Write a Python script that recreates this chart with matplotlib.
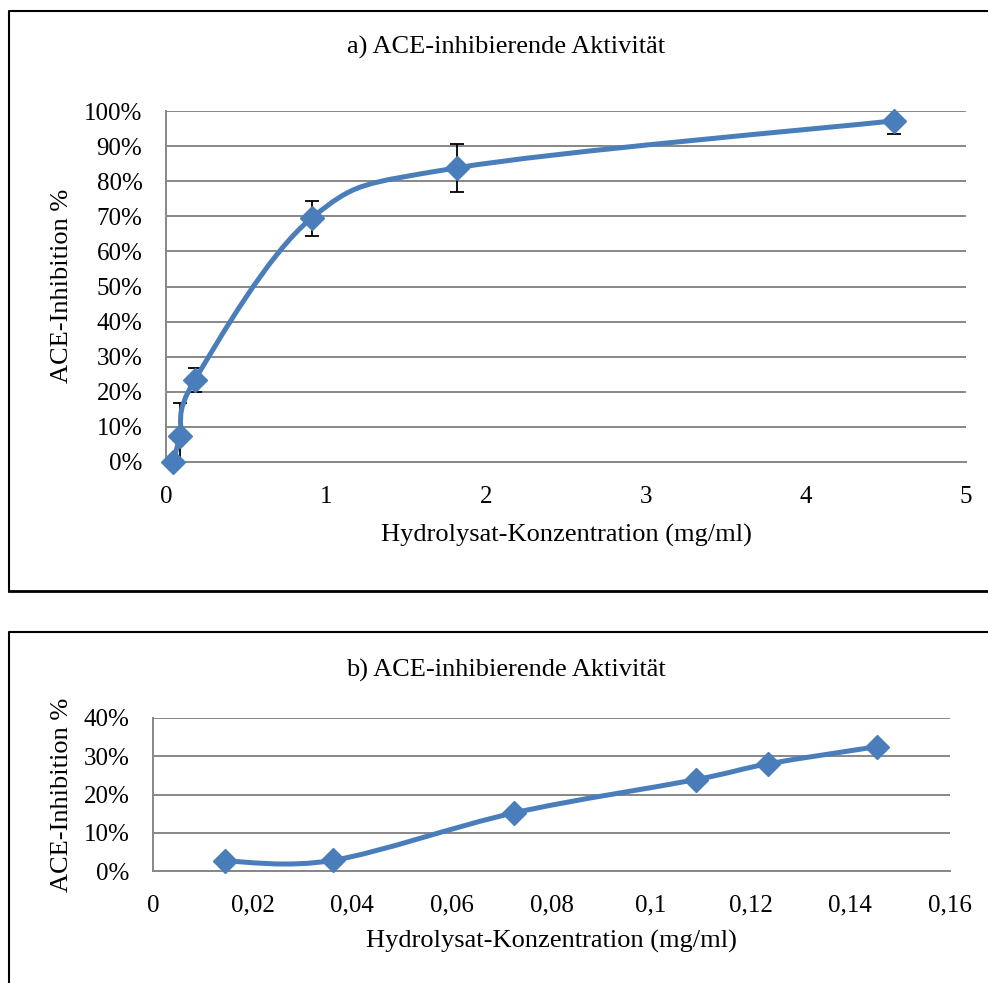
import matplotlib.pyplot as plt
from matplotlib.path import Path
from matplotlib.patches import PathPatch
from matplotlib.lines import Line2D
from matplotlib.ticker import FuncFormatter

plt.rcParams['font.family'] = ['Liberation Serif', 'DejaVu Serif']

# panel a
conc_a = [0.044, 0.088, 0.18, 0.91, 1.817, 4.55]
inhib_a = [0.0, 0.074, 0.234, 0.695, 0.838, 0.972]
err_a = [0.0, 0.095, 0.034, 0.05, 0.068, 0.038]

# panel b
conc_b = [0.0145, 0.0362, 0.0725, 0.109, 0.1234, 0.1453]
inhib_b = [0.026, 0.028, 0.152, 0.239, 0.28, 0.325]

blue = '#4A7EBB'
grid = '#878787'
W, H = 988, 983


def smooth_path(x, y):
    # excel-like smoothed line: catmull-rom segments as cubic beziers
    p = list(zip(x, y))
    n = len(p)
    verts = [p[0]]
    codes = [Path.MOVETO]
    for i in range(n - 1):
        a = p[i - 1] if i > 0 else p[i]
        b, c = p[i], p[i + 1]
        d = p[i + 2] if i + 2 < n else p[i + 1]
        c1 = (b[0] + (c[0] - a[0]) / 6, b[1] + (c[1] - a[1]) / 6)
        c2 = (c[0] - (d[0] - b[0]) / 6, c[1] - (d[1] - b[1]) / 6)
        verts += [c1, c2, c]
        codes += [Path.CURVE4] * 3
    return Path(verts, codes)


def style(ax, yticks):
    ax.set_yticks(yticks)
    ax.yaxis.set_major_formatter(FuncFormatter(lambda v, _: f'{v*100:.0f}%'))
    ax.grid(axis='y', color=grid, lw=1.4)
    ax.set_axisbelow(True)
    for s in ['top', 'right']:
        ax.spines[s].set_visible(False)
    for s in ['left', 'bottom']:
        ax.spines[s].set_color(grid)
        ax.spines[s].set_linewidth(1.4)
    ax.tick_params(length=0, labelsize=18, pad=17)


fig = plt.figure(figsize=(W / 100, H / 100), dpi=100)

# panel frames
fig.add_artist(Line2D([9/W, 9/W, 1], [1 - 591/H, 1 - 11/H, 1 - 11/H], color='black', lw=1.5))
fig.add_artist(Line2D([9/W, 1], [1 - 591/H, 1 - 591/H], color='black', lw=2))
fig.add_artist(Line2D([9/W, 9/W, 1], [0, 1 - 632/H, 1 - 632/H], color='black', lw=1.5))

ax1 = fig.add_axes([166/W, 1 - 462/H, 800/W, 351/H])
ax1.set_xlim(0, 5)
ax1.set_ylim(0, 1)
style(ax1, [i / 10 for i in range(11)])
ax1.set_xticks([0, 1, 2, 3, 4, 5])
ax1.add_patch(PathPatch(smooth_path(conc_a, inhib_a), fill=False, ec=blue, lw=3.6, zorder=3, clip_on=False))
ax1.errorbar(conc_a, inhib_a, yerr=err_a, fmt='none', ecolor='black', elinewidth=1.3, capsize=5, capthick=1.3, zorder=2)
ax1.plot(conc_a, inhib_a, ls='none', marker='D', ms=12, color=blue, zorder=4, clip_on=False)

ax2 = fig.add_axes([153/W, 1 - 871/H, 797/W, 153/H])
ax2.set_xlim(0, 0.16)
ax2.set_ylim(0, 0.4)
style(ax2, [0, 0.1, 0.2, 0.3, 0.4])
ax2.set_xticks([0, 0.02, 0.04, 0.06, 0.08, 0.1, 0.12, 0.14, 0.16])
ax2.xaxis.set_major_formatter(FuncFormatter(lambda v, _: f'{v:.2f}'.rstrip('0').rstrip('.').replace('.', ',')))
ax2.add_patch(PathPatch(smooth_path(conc_b, inhib_b), fill=False, ec=blue, lw=3.6, zorder=3, clip_on=False))
ax2.plot(conc_b, inhib_b, ls='none', marker='D', ms=12, color=blue, zorder=4, clip_on=False)

fig.text(506/W, 1 - 47/H, 'a) ACE-inhibierende Aktivität', ha='center', va='center', fontsize=19)
fig.text(566/W, 1 - 535/H, 'Hydrolysat-Konzentration (mg/ml)', ha='center', va='center', fontsize=19)
fig.text(62/W, 1 - 286/H, 'ACE-Inhibition %', ha='center', va='center', rotation=90, fontsize=19)

fig.text(506/W, 1 - 670/H, 'b) ACE-inhibierende Aktivität', ha='center', va='center', fontsize=19)
fig.text(551/W, 1 - 941/H, 'Hydrolysat-Konzentration (mg/ml)', ha='center', va='center', fontsize=19)
fig.text(62/W, 1 - 795/H, 'ACE-Inhibition %', ha='center', va='center', rotation=90, fontsize=19)

fig.savefig('out.png', dpi=100, facecolor='white')
